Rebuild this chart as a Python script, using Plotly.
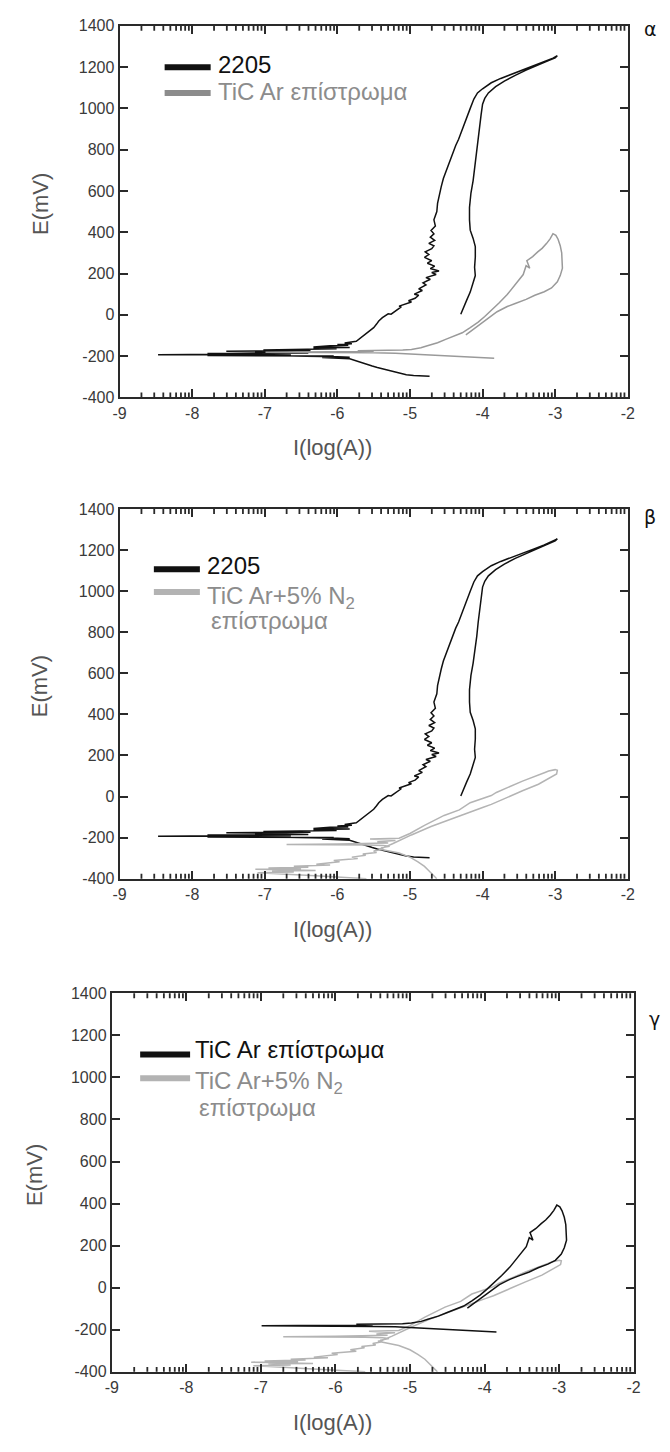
import math
import plotly.graph_objects as go

W, H = 670, 1452

# ---- cyclic polarization curves: log(I) [log A] vs E [mV] ----
steel_logi = [
    -4.73, -4.85, -4.95, -5.05, -5.12, -5.20, -5.28, -5.38, -5.45, -5.52, -5.60, -5.66, -5.72, -5.78, -5.83,
    -6.21, -5.83, -6.00, -6.64, -6.05, -7.79, -6.64, -7.79, -6.64, -8.47, -6.64, -7.79, -6.64, -7.79, -6.40,
    -7.53, -6.37, -7.02, -6.60, -7.02, -6.01, -6.33, -5.83, -6.33, -6.10, -5.85, -6.00, -5.80, -5.90, -5.74,
    -5.68, -5.62, -5.56, -5.50, -5.46, -5.43, -5.38, -5.30, -5.26, -5.18, -5.12, -5.15, -5.05, -4.98, -5.02,
    -4.93, -4.88, -4.94, -4.83, -4.88, -4.78, -4.82, -4.72, -4.78, -4.64, -4.70, -4.60, -4.72, -4.66, -4.76,
    -4.70, -4.80, -4.74, -4.79, -4.70, -4.67, -4.74, -4.66, -4.72, -4.67, -4.71, -4.65, -4.67, -4.63, -4.62,
    -4.60, -4.57, -4.54, -4.50, -4.46, -4.42, -4.37, -4.33, -4.28, -4.22, -4.17, -4.12, -4.07, -4.00, -3.88,
    -3.75, -3.60, -3.45, -3.30, -3.15, -3.03, -2.97,
    -3.00, -3.10, -3.25, -3.40, -3.55, -3.70, -3.82, -3.92, -3.97, -4.00, -4.02, -4.04, -4.06, -4.08, -4.10,
    -4.13, -4.16, -4.18, -4.18, -4.17, -4.13, -4.10, -4.10, -4.11, -4.10, -4.13, -4.17, -4.22, -4.26, -4.30,
]
steel_e = [
    -298, -297, -294, -290, -284, -280, -272, -262, -255, -248, -238, -232, -224, -218, -213,
    -207, -205, -203, -200, -199, -197, -196, -195, -194, -193, -191, -190, -188, -187, -185,
    -176, -174, -170, -169, -167, -165, -160, -158, -156, -150, -148, -144, -140, -136, -128,
    -112, -95, -78, -62, -45, -30, -14, 5, 3, 25, 38, 42, 52, 62, 68,
    80, 95, 100, 118, 126, 145, 155, 172, 180, 195, 205, 212, 224, 236, 250,
    262, 278, 292, 305, 320, 334, 346, 360, 376, 392, 408, 430, 460, 500, 540,
    580, 620, 660, 700, 740, 780, 820, 850, 900, 950, 1000, 1045, 1075, 1095, 1124,
    1145, 1166, 1186, 1205, 1225, 1243, 1255,
    1245, 1230, 1208, 1185, 1160, 1132, 1105, 1075, 1048, 1020, 970, 910, 850, 780, 720,
    650, 590, 520, 460, 410, 370, 330, 280, 230, 190, 150, 110, 70, 40, 3,
]

tic_ar_logi = [
    -3.84, -3.95, -4.06, -4.20, -4.41, -4.60, -4.80, -4.98, -5.20, -5.50, -5.90, -6.40, -6.99, -6.50, -5.72,
    -5.50, -5.72, -5.30, -5.10, -4.98, -4.85, -4.76, -4.62, -4.50, -4.40, -4.28, -4.17, -4.06, -3.97, -3.88,
    -3.77, -3.66, -3.55, -3.44, -3.40, -3.35, -3.39, -3.31, -3.24, -3.18, -3.12, -3.07, -3.03, -2.99, -2.96,
    -2.93, -2.91, -2.90, -2.90, -2.93, -2.97, -3.05, -3.15, -3.28, -3.40, -3.55, -3.66, -3.80, -3.97, -4.10,
    -4.23,
]
tic_ar_e = [
    -211, -209, -208, -205, -201, -197, -193, -189, -186, -184, -183, -182, -181, -180, -178,
    -176, -174, -173, -171, -168, -160, -150, -135, -118, -104, -87, -62, -35, -8, 20,
    58, 98, 145, 195, 238, 226, 262, 282, 305, 322, 345, 368, 393, 385, 366,
    335, 300, 260, 226, 190, 160, 130, 112, 95, 75, 55, 40, 15, -28, -62,
    -97,
]

tic_n2_logi = [
    -5.60, -5.90, -6.30, -6.70, -7.10, -6.60, -6.90, -6.30, -7.13, -6.50, -6.95, -6.40, -6.60, -6.10, -6.29,
    -5.97, -6.05, -5.72, -5.80, -5.61, -5.65, -5.46, -5.50, -5.37, -5.40, -5.28, -5.37, -5.60, -6.70, -6.00,
    -5.52, -5.30, -5.45, -5.20, -5.55, -5.15, -5.00, -4.80, -4.53, -4.32, -4.17, -3.88, -3.81, -3.45, -3.14,
    -3.09, -3.00, -2.97, -2.98, -3.03, -3.23, -3.45, -3.63, -3.88, -3.99, -4.35, -4.71, -4.98, -5.11, -5.24,
    -5.37, -5.43, -5.15, -5.00, -4.89, -4.80, -4.75, -4.69, -4.64, -4.62,
]
tic_n2_e = [
    -400, -393, -386, -378, -371, -368, -362, -360, -354, -352, -348, -344, -340, -333, -330,
    -318, -312, -302, -295, -286, -280, -272, -265, -257, -250, -242, -238, -236, -233, -231,
    -229, -226, -220, -214, -207, -203, -180, -140, -92, -65, -30, 5, 20, 75, 117,
    124, 131, 128, 110, 100, 60, 28, 0, -38, -52, -98, -146, -187, -210, -230,
    -250, -255, -275, -295, -318, -340, -358, -380, -397, -420,
]

# ---- axis ticks ----
x_major = [-9, -8, -7, -6, -5, -4, -3, -2]
x_major_text = ["-9", "-8", "-7", "-6", "-5", "-4", "-3", "-2"]
y_major = [-400, -200, 0, 200, 400, 600, 800, 1000, 1200, 1400]
y_major_text = ["-400", "-200", "0", "200", "400", "600", "800", "1000", "1200", "1400"]
x_minor = [d + math.log10(k) for d in range(-9, -2) for k in range(2, 10)]

BLACK = "#111111"
GREY_AR = "#9a9a9a"
GREY_N2 = "#b4b4b4"
AXIS = "#2a2a2a"
FONT = "Liberation Sans, Arial, sans-serif"
MINOR_LEN = 5   # px
MAJOR_LEN = 8   # px
TICK_W = 1.8


def fx(px):
    return px / W


def fy(py):
    return 1 - py / H


# panel boxes in pixels: left, right, top, bottom
panels = [
    dict(box=(115, 634, 18, 394),
         traces=[(steel_logi, steel_e, BLACK), (tic_ar_logi, tic_ar_e, GREY_AR)],
         tag="α", tag_pos=(657, 21), ytitle_x=34),
    dict(box=(115, 634, 507, 881),
         traces=[(steel_logi, steel_e, BLACK), (tic_n2_logi, tic_n2_e, GREY_N2)],
         tag="β", tag_pos=(657, 515), ytitle_x=34),
    dict(box=(107, 640, 997, 1380),
         traces=[(tic_n2_logi, tic_n2_e, GREY_N2), (tic_ar_logi, tic_ar_e, BLACK)],
         tag="γ", tag_pos=(661, 1023), ytitle_x=28),
]

fig = go.Figure()
layout = dict(
    width=W, height=H, margin=dict(l=0, r=0, t=0, b=0),
    paper_bgcolor="white", plot_bgcolor="white", showlegend=False,
    font=dict(family=FONT, color=AXIS),
)
annotations = []
shapes = []

for i, p in enumerate(panels, start=1):
    l, r, t, b = p["box"]
    sfx = "" if i == 1 else str(i)
    for xs, ys, col in p["traces"]:
        fig.add_trace(go.Scatter(
            x=xs, y=ys, mode="lines", xaxis="x" + sfx, yaxis="y" + sfx,
            line=dict(color=col, width=1.5), hoverinfo="skip",
        ))
    layout["xaxis" + sfx] = dict(
        domain=[fx(l), fx(r)], anchor="y" + sfx, range=[-9, -2],
        tickmode="array", tickvals=x_major, ticktext=x_major_text,
        ticks="inside", ticklen=MAJOR_LEN, tickwidth=TICK_W, tickcolor=AXIS,
        showline=True, linecolor=AXIS, linewidth=2, mirror="ticks",
        showgrid=False, zeroline=False,
        tickfont=dict(family=FONT, size=16, color="#3a3a3a"),
    )
    layout["yaxis" + sfx] = dict(
        domain=[fy(b), fy(t)], anchor="x" + sfx, range=[-400, 1400],
        tickmode="array", tickvals=y_major, ticktext=y_major_text,
        ticks="inside", ticklen=MAJOR_LEN, tickwidth=TICK_W, tickcolor=AXIS,
        showline=True, linecolor=AXIS, linewidth=2, mirror="ticks",
        showgrid=False, zeroline=False,
        tickfont=dict(family=FONT, size=16, color="#3a3a3a"),
    )
    # log-decade minor ticks along the bottom and top frame edges
    frac = MINOR_LEN / (b - t)
    for v in x_minor:
        for y0, y1 in ((0, frac), (1, 1 - frac)):
            shapes.append(dict(type="line", xref="x" + sfx, yref="y" + sfx + " domain",
                               x0=v, x1=v, y0=y0, y1=y1, layer="above",
                               line=dict(color=AXIS, width=TICK_W)))
    # axis titles
    annotations.append(dict(
        text="E(mV)", textangle=-90, x=fx(p["ytitle_x"]), y=fy((t + b) / 2 - 8),
        xref="paper", yref="paper", xanchor="center", yanchor="middle", showarrow=False,
        font=dict(family=FONT, size=22, color="#555555"),
    ))
    annotations.append(dict(
        text="I(log(A))", x=fx(332), y=fy(b + 51),
        xref="paper", yref="paper", xanchor="center", yanchor="middle", showarrow=False,
        font=dict(family=FONT, size=22, color="#555555"),
    ))
    # panel tag
    annotations.append(dict(
        text=p["tag"], x=fx(p["tag_pos"][0]), y=fy(p["tag_pos"][1]),
        xref="paper", yref="paper", xanchor="center", yanchor="middle", showarrow=False,
        font=dict(family="DejaVu Sans, sans-serif", size=19, color=BLACK),
    ))


def legend_text(label, label_color, tx, ty):
    annotations.append(dict(
        text=label, x=fx(tx), y=fy(ty), xref="paper", yref="paper",
        xanchor="left", yanchor="middle", showarrow=False,
        font=dict(family=FONT, size=24, color=label_color),
    ))


def legend_item(x0, x1, y, color, label, label_color, tx, ty):
    shapes.append(dict(type="line", xref="paper", yref="paper",
                       x0=fx(x0), x1=fx(x1), y0=fy(y), y1=fy(y),
                       line=dict(color=color, width=6)))
    legend_text(label, label_color, tx, ty)


# legend α
legend_item(161, 208, 60, BLACK, "2205", BLACK, 213, 57)
legend_item(161, 208, 86, "#8c8c8c", "TiC Ar επίστρωμα", "#8c8c8c", 213, 84)
# legend β
legend_item(150, 197, 568, BLACK, "2205", BLACK, 202, 564)
legend_item(150, 197, 591, "#b3b3b3", "TiC Ar+5% N<sub>2</sub>", "#8c8c8c", 202, 596)
legend_text("επίστρωμα", "#8c8c8c", 206, 620)
# legend γ
legend_item(136, 187, 1059, BLACK, "TiC Ar επίστρωμα", BLACK, 190, 1054)
legend_item(136, 187, 1083, "#b3b3b3", "TiC Ar+5% N<sub>2</sub>", "#8c8c8c", 190, 1087)
legend_text("επίστρωμα", "#8c8c8c", 194, 1113)

layout["annotations"] = annotations
layout["shapes"] = shapes
fig.update_layout(**layout)
fig.write_html("out.html")
